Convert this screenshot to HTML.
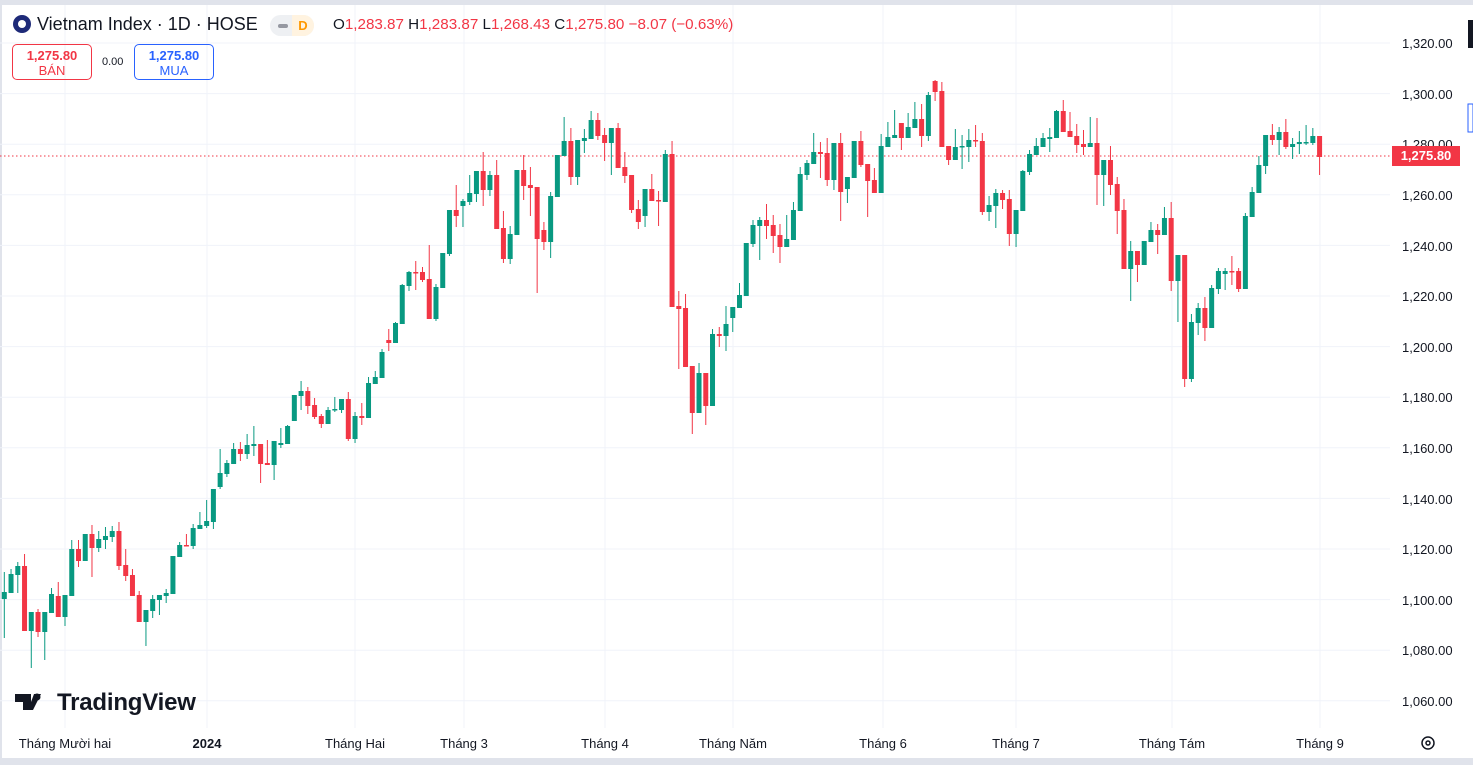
<!DOCTYPE html>
<html><head><meta charset="utf-8">
<style>
html,body{margin:0;padding:0;background:#fff;}
body{width:1473px;height:765px;position:relative;overflow:hidden;font-family:"Liberation Sans",sans-serif;color:#131722;}
#frame{position:absolute;left:0;top:0;width:1473px;height:765px;box-sizing:border-box;border-top:5px solid #e0e3eb;border-left:2px solid #e0e3eb;border-bottom:7px solid #e0e3eb;}
svg{position:absolute;left:0;top:0;}
.hdr{position:absolute;top:14px;left:13px;font-size:18px;white-space:nowrap;}
.ohlc{position:absolute;top:16px;left:333px;font-size:15.2px;white-space:nowrap;color:#131722;}
.ohlc span{color:#f23645;}
.box{position:absolute;top:44px;height:36px;width:80px;border-radius:5px;box-sizing:border-box;text-align:center;font-size:13px;line-height:15px;padding-top:3px;}
.pl{position:absolute;left:1402px;font-size:13px;color:#131722;}
.tl{position:absolute;top:736px;font-size:13px;color:#131722;transform:translateX(-50%);white-space:nowrap;}
</style></head><body>
<div id="frame"></div>
<svg id="c" width="1473" height="765"></svg>
<div class="hdr"><span style="display:inline-block;width:18px;height:18px;border-radius:50%;background:#1e2a78;vertical-align:-3px;margin-right:6px;position:relative"><span style="position:absolute;left:5px;top:5px;width:8px;height:8px;border-radius:50%;background:#fff"></span></span>Vietnam Index · 1D · HOSE</div>
<div style="position:absolute;left:270px;top:15px;width:44px;height:21px;border-radius:11px;background:#eef0f3;"></div>
<div style="position:absolute;left:278px;top:24px;width:10px;height:4px;border-radius:2px;background:#9598a1;"></div>
<div style="position:absolute;left:292px;top:15px;width:22px;height:21px;border-radius:0 11px 11px 0;background:#fff3e0;color:#ff9800;font-size:13px;font-weight:bold;text-align:center;line-height:21px;">D</div>
<div class="ohlc">O<span>1,283.87</span> H<span>1,283.87</span> L<span>1,268.43</span> C<span>1,275.80</span> <span>−8.07 (−0.63%)</span></div>
<div class="box" style="left:12px;border:1px solid #f23645;color:#f23645;"><b>1,275.80</b><br>BÁN</div>
<div style="position:absolute;left:102px;top:56px;font-size:11px;">0.00</div>
<div class="box" style="left:134px;border:1px solid #2962ff;color:#2962ff;"><b>1,275.80</b><br>MUA</div>
<div class="pl" style="top:36px">1,320.00</div>
<div class="pl" style="top:87px">1,300.00</div>
<div class="pl" style="top:137px">1,280.00</div>
<div class="pl" style="top:188px">1,260.00</div>
<div class="pl" style="top:239px">1,240.00</div>
<div class="pl" style="top:289px">1,220.00</div>
<div class="pl" style="top:340px">1,200.00</div>
<div class="pl" style="top:390px">1,180.00</div>
<div class="pl" style="top:441px">1,160.00</div>
<div class="pl" style="top:492px">1,140.00</div>
<div class="pl" style="top:542px">1,120.00</div>
<div class="pl" style="top:593px">1,100.00</div>
<div class="pl" style="top:643px">1,080.00</div>
<div class="pl" style="top:694px">1,060.00</div>
<div style="position:absolute;left:1392px;top:146px;width:68px;height:20px;background:#f23645;color:#fff;font-size:13px;line-height:20px;text-align:center;font-weight:bold;">1,275.80</div>
<div class="tl" style="left:65px">Tháng Mười hai</div>
<div class="tl" style="left:207px;font-weight:bold">2024</div>
<div class="tl" style="left:355px">Tháng Hai</div>
<div class="tl" style="left:464px">Tháng 3</div>
<div class="tl" style="left:605px">Tháng 4</div>
<div class="tl" style="left:733px">Tháng Năm</div>
<div class="tl" style="left:883px">Tháng 6</div>
<div class="tl" style="left:1016px">Tháng 7</div>
<div class="tl" style="left:1172px">Tháng Tám</div>
<div class="tl" style="left:1320px">Tháng 9</div>
<div style="position:absolute;left:57px;top:689px;font-size:24px;font-weight:bold;color:#131722;letter-spacing:-0.2px;">TradingView</div>
<svg width="1473" height="765" style="pointer-events:none">
<path d="M15 694h16v16h-8v-8h-8z M34 694h7l-8 16h-5z" fill="#131722"/>
<circle cx="37" cy="697" r="3.5" fill="#131722"/>
<circle cx="1428" cy="743" r="6" fill="none" stroke="#131722" stroke-width="1.5"/>
<circle cx="1428" cy="743" r="2" fill="none" stroke="#131722" stroke-width="1.5"/>
<rect x="1468" y="20" width="5" height="28" fill="#131722"/>
<rect x="1468" y="104" width="5" height="28" fill="none" stroke="#2962ff"/>
</svg>
<script>
var D=[
"g592,599,572,638","g574,593,569,593","g566,575,562,593","r566,631,554,631","g612,631,612,668","r612,632,609,637","g612,632,612,660","g594,613,588,613","r596,617,582,617","g595,617,595,626",
"g549,596,540,596","r549,561,540,567","g534,561,534,561","r534,548,525,577","g539,548,531,552","g536,540,527,549","g531,537,526,542","r531,566,522,570","r565,576,549,581","r575,596,569,596",
"r595,622,591,622","g610,622,610,646","g599,611,595,618","g595,600,595,615","g593,596,589,603","g556,594,556,594","g545,557,542,557","r545,546,534,546","g528,546,524,549","g525,529,512,529",
"g521,526,500,528","g489,522,489,529","g473,487,449,489","g463,474,460,477","g449,464,443,464","r449,454,442,461","g445,454,434,459","g444,446,426,456","r444,464,444,483","r463,465,440,465",
"g441,465,441,480","g443,445,428,448","g426,444,425,444","g395,421,395,421","g391,396,381,410","r391,406,387,414","r405,417,398,419","r416,424,414,428","g410,424,407,424","g409,410,397,412",
"g399,410,399,413","r399,439,392,441","g416,439,412,443","r416,418,403,425","g383,418,377,418","g377,384,371,384","g352,378,349,378","r340,343,329,351","g323,343,322,343","g285,324,284,324",
"g272,286,271,291","r272,273,261,290","r272,280,267,282","r279,319,245,319","g287,319,284,321","g253,288,253,288","g210,254,210,256","r210,216,185,227","g201,206,199,227","g193,202,175,205",
"g171,194,171,202","r171,190,152,206","g175,190,171,196","r175,229,160,229","r228,259,211,263","g234,259,226,264","g170,235,170,235","r170,186,155,200","r185,188,167,216","r187,239,187,293",
"r230,242,222,250","g196,242,192,258","g155,197,155,197","g141,156,117,156","r141,177,128,185","g140,177,140,185","g138,141,129,153","g120,139,111,139","r120,136,113,140","r135,143,128,161",
"g128,143,128,175","r128,168,123,168","r167,176,152,183","r175,210,175,213","r209,222,200,229","g189,216,189,227","r189,201,174,201","r200,201,191,226","g154,202,150,202","r154,307,141,307",
"r306,309,291,369","r308,367,294,367","r366,413,366,434","g373,413,363,413","r373,406,373,425","g334,406,329,406","r334,336,327,347","g324,336,306,351","g307,318,307,332","g295,308,283,308",
"g243,296,243,296","g225,244,220,247","g220,226,217,260","r220,226,204,239","r225,236,215,253","r235,247,224,263","g239,247,215,247","g210,240,202,240","g174,211,167,211","g163,175,160,180",
"g152,164,133,164","r152,154,142,178","r153,180,138,186","g143,180,143,190","r143,192,133,221","g177,189,177,203","g141,178,141,178","r141,165,131,167","r164,181,164,217","r180,193,168,193",
"g146,193,134,193","g137,147,122,147","g135,138,110,138","r123,138,123,150","g127,138,113,138","g119,128,102,128","r119,136,104,147","g95,136,92,141","r81,92,80,101","r91,147,82,147",
"r146,160,146,165","g147,160,129,160","g146,147,135,169","g140,147,129,162","r140,141,125,147","r141,212,133,215","g205,212,196,221","g193,206,189,228","r193,200,190,209","r199,234,190,246",
"g210,234,210,247","g171,211,170,211","g154,172,150,175","g146,155,138,155","g138,147,133,147","g137,139,128,152","g111,138,110,138","r111,132,100,132","r131,137,112,137","r136,145,124,153",
"r144,147,130,155","g143,147,117,147","r143,175,118,205","g160,175,160,206","r160,185,146,195","r184,211,177,234","r210,269,199,269","g251,269,241,301","r251,265,251,282","g241,265,241,265",
"g230,242,222,242","r230,235,224,254","g218,235,207,235","r218,281,202,291","g255,281,255,322","r255,379,255,387","g322,379,314,382","g308,323,303,335","r308,328,297,341","g288,328,285,328",
"g271,289,268,294","g271,274,268,290","r271,272,256,285","r271,289,268,292","g216,289,213,289","g192,217,187,217","g165,193,156,193","g135,166,135,174","r135,140,124,145","g132,140,127,155",
"r132,147,119,149","g144,147,138,159","g142,144,131,154","g142,143,125,145","g136,143,128,145","r136,157,136,175"];
var s='';
for(var k=0;k<14;k++){var y=(43+k*50.6).toFixed(1);s+='<line x1="0" x2="1390" y1="'+y+'" y2="'+y+'" stroke="#f0f3fa"/>';}
[65,207,355,464,605,733,883,1016,1172,1320].forEach(function(x){s+='<line x1="'+x+'" x2="'+x+'" y1="5" y2="728" stroke="#f0f3fa"/>';});
s+='<line x1="0" x2="1392" y1="156" y2="156" stroke="#f23645" stroke-dasharray="1.5 2.5"/>';
D.forEach(function(d,i){var c=d[0]=='g'?'#089981':'#f23645';var v=d.slice(1).split(',').map(Number);var x=4.3+i*6.745;
var t=v[0],b=v[1];if(b-t<1.5){b=t+1.5;}
s+='<line x1="'+x.toFixed(2)+'" x2="'+x.toFixed(2)+'" y1="'+v[2]+'" y2="'+v[3]+'" stroke="'+c+'" stroke-width="1"/>';
s+='<rect x="'+(x-2.5).toFixed(2)+'" y="'+t+'" width="5" height="'+(b-t)+'" fill="'+c+'"/>';});
document.getElementById('c').innerHTML=s;
</script>
</body></html>
